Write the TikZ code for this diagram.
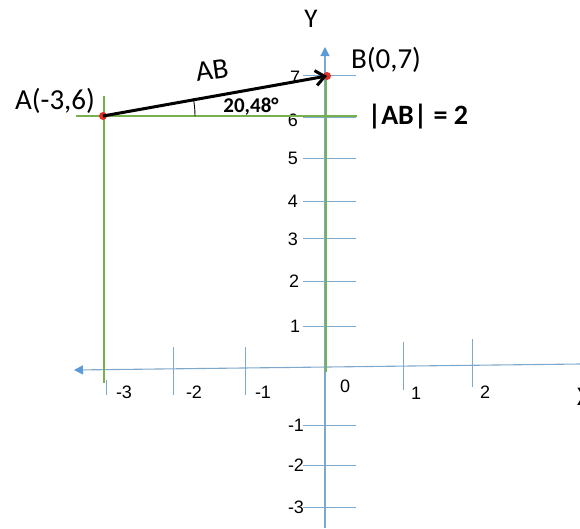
\documentclass[tikz,border=0pt]{standalone}
\usepackage{fontspec}
\setmainfont{Carlito}
\newfontfamily\arialf{Liberation Sans}
\usetikzlibrary{arrows.meta}
\definecolor{axblue}{HTML}{7FA9CC}
\definecolor{tipblue}{HTML}{5B9BD5}
\definecolor{grn}{HTML}{77B04E}
\definecolor{dotred}{HTML}{E0302A}
\tikzset{
  axis/.style={draw=axblue, line width=1.1pt},
  tickln/.style={draw=axblue, line width=0.9pt},
  grnln/.style={draw=grn, line width=2.8pt},
  ticklbl/.style={font=\arialf\fontsize{18}{18}\selectfont, inner sep=0pt},
  biglbl/.style={font=\fontsize{29}{29}\selectfont, inner sep=0pt},
  reddot/.style={circle, fill=dotred, inner sep=0pt, minimum size=8pt},
}
\begin{document}
\begin{tikzpicture}[x=1pt,y=-1pt]
\useasboundingbox (0,0) rectangle (580,528);
% axes coordinates
\coordinate (yb) at (325,528);
\coordinate (yt) at (325,47);
\coordinate (xl) at (74,370);
\coordinate (xr) at (580,364);
% Y axis
\draw[axis, -{Triangle[length=9pt,width=9pt,color=tipblue]}] (yb) -- (yt);
% X axis
\draw[axis, -{Triangle[length=9pt,width=9pt,color=tipblue]}] (xr) -- (xl);
% x ticks
\foreach \xx/\ya/\yb in {106/380/395, 173/347/395, 245/347/395, 403/342/390, 472/339/387}{
  \draw[tickln] (\xx,\ya) -- (\xx,\yb);
}
% y ticks
\foreach \yy in {75,117,158,201,238,281,326,425,465,507}{
  \draw[tickln] (303,\yy) -- (356,\yy);
}
% x tick labels
\node[ticklbl] (lm3) at (124,392) {-3};
\node[ticklbl] (lm2) at (194,392) {-2};
\node[ticklbl] (lm1) at (263,392) {-1};
\node[ticklbl] (l0) at (345,386) {0};
\node[ticklbl] (l1) at (416,393) {1};
\node[ticklbl] (l2) at (485,392) {2};
% y tick labels
\node[ticklbl] (y7) at (295,77) {7};
\node[ticklbl] (y6) at (293,120) {6};
\node[ticklbl] (y5) at (293,158) {5};
\node[ticklbl] (y4) at (293,201) {4};
\node[ticklbl] (y3) at (293,239) {3};
\node[ticklbl] (y2) at (294,281) {2};
\node[ticklbl] (y1) at (295,326) {1};
\node[ticklbl] (ym1) at (296,425) {-1};
\node[ticklbl] (ym2) at (296,465) {-2};
\node[ticklbl] (ym3) at (296,507) {-3};
% axis names
\node[biglbl, font=\fontsize{27}{27}\selectfont] (Ylbl) at (311,19) {Y};
\node[biglbl, font=\fontsize{27}{27}\selectfont] (Xlbl) at (584,397) {X};
% green lines
\coordinate (gh1) at (76,116);
\coordinate (gh2) at (357,116);
\coordinate (gv1) at (104,96);
\coordinate (gv2) at (104,383);
\coordinate (gb1) at (326,75);
\coordinate (gb2) at (326,372);
\draw[grnln] (gh1) -- (gh2);
\draw[grnln] (gv1) -- (gv2);
\draw[grnln] (gb1) -- (gb2);
% points
\node[reddot] (A) at (103,116) {};
\node[reddot] (B) at (327,76) {};
% vector
\draw[line width=3pt, -{Straight Barb[length=9pt,width=15pt,line width=3pt]}] (A.center) -- (B.center);
% angle arc
\draw[line width=0.9pt] (195,116) arc[start angle=0, end angle=-11, radius=92];
\node[font=\bfseries\fontsize{21}{21}\selectfont, inner sep=0pt] (ang) at (251,107) {20,48°};
% labels
\node[biglbl] (Alb) at (55,101) {A(-3,6)};
\node[biglbl, rotate=8] (ABl) at (212,70) {AB};
\node[biglbl] (Blb) at (386,60) {B(0,7)};
\node[biglbl, font=\bfseries\fontsize{28}{28}\selectfont] (len) at (418,117) {|AB| = 2};
\end{tikzpicture}
\end{document}
